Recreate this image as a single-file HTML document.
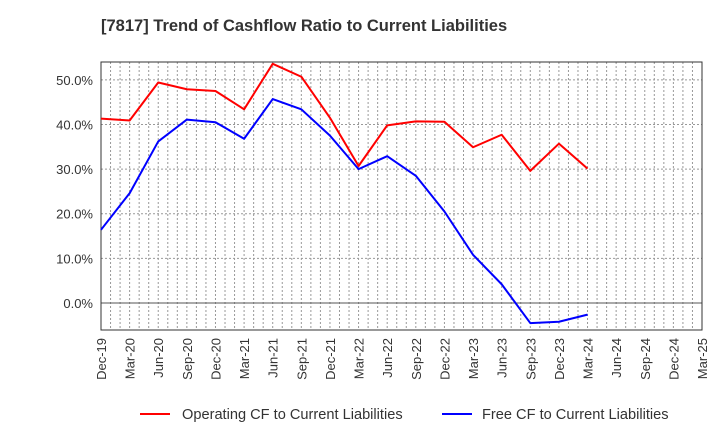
<!DOCTYPE html>
<html><head><meta charset="utf-8"><style>
body{margin:0;background:#fff;}
svg text{font-family:"Liberation Sans",sans-serif;}
</style></head><body>
<svg id="chart" width="720" height="440" xmlns="http://www.w3.org/2000/svg">
<text x="101" y="31" text-anchor="start" font-size="16.5" font-weight="bold" fill="#333">[7817]  Trend of Cashflow Ratio to Current Liabilities</text>
<g id="grid"></g><g id="axes"></g><g id="series"></g>
<g>
<line x1="140" y1="414" x2="170" y2="414" stroke="#f00" stroke-width="2"/>
<text x="182" y="419" font-size="14.6" fill="#333">Operating CF to Current Liabilities</text>
<line x1="442" y1="414" x2="472" y2="414" stroke="#00f" stroke-width="2"/>
<text x="482" y="419" font-size="14.6" fill="#333">Free CF to Current Liabilities</text>
</g>
</svg>
<script>
const categories=["Dec-19","Mar-20","Jun-20","Sep-20","Dec-20","Mar-21","Jun-21","Sep-21","Dec-21","Mar-22","Jun-22","Sep-22","Dec-22","Mar-23","Jun-23","Sep-23","Dec-23","Mar-24","Jun-24","Sep-24","Dec-24","Mar-25"];
const operatingCF=[41.3,40.9,49.4,47.9,47.5,43.4,53.6,50.7,41.5,30.7,39.8,40.7,40.6,34.9,37.7,29.6,35.7,30.1];
const freeCF=[16.4,24.6,36.2,41.1,40.5,36.8,45.7,43.4,37.5,30.0,32.9,28.5,20.5,10.8,4.2,-4.5,-4.2,-2.6];
const yTicks=[0,10,20,30,40,50];
const L=101,R=702,T=62,B=330,yMin=-6.05,yMax=54.0;
const ns="http://www.w3.org/2000/svg";
const step=(R-L)/(categories.length-1);
const x=i=>L+i*step;
const y=v=>B-(v-yMin)/(yMax-yMin)*(B-T);
function mk(tag,attrs,parent){const e=document.createElementNS(ns,tag);for(const k in attrs)e.setAttribute(k,attrs[k]);parent.appendChild(e);return e;}
const grid=document.getElementById('grid'),axes=document.getElementById('axes'),series=document.getElementById('series');
for(let m=1;m<(categories.length-1)*3;m++){
 const gx=L+m*step/3;
 const gl=mk('line',{x1:gx,y1:T,x2:gx,y2:B,stroke:'#999','stroke-width':1,'stroke-dasharray':'2,2'},grid);
 
 
}
yTicks.forEach(t=>{
 const gl=mk('line',{x1:L,y1:y(t),x2:R,y2:y(t),stroke:t===0?'#555':'#999','stroke-width':1,'stroke-dasharray':t===0?'none':'2,2'},grid);
 
 
 const tl=mk('text',{x:L-8,y:y(t)+5,'text-anchor':'end','font-size':13,fill:'#333'},axes);
 tl.textContent=t.toFixed(1)+'%';
 
 
});
const frame=mk('rect',{x:L,y:T,width:R-L,height:B-T,fill:'none',stroke:'#333','stroke-width':1},axes);


categories.forEach((c,i)=>{
 const t=mk('text',{x:0,y:0,'text-anchor':'end','font-size':13,fill:'#333',transform:`translate(${x(i)+5},338) rotate(-90)`},axes);
 t.textContent=c;
 
 
});
function line(data,color,name){
 const p=mk('polyline',{points:data.map((v,i)=>x(i)+','+y(v)).join(' '),fill:'none',stroke:color,'stroke-width':2,'stroke-linejoin':'round'},series);
 
 
}
line(operatingCF,'#f00','operating-cf-line');
line(freeCF,'#00f','free-cf-line');
</script>
</body></html>
